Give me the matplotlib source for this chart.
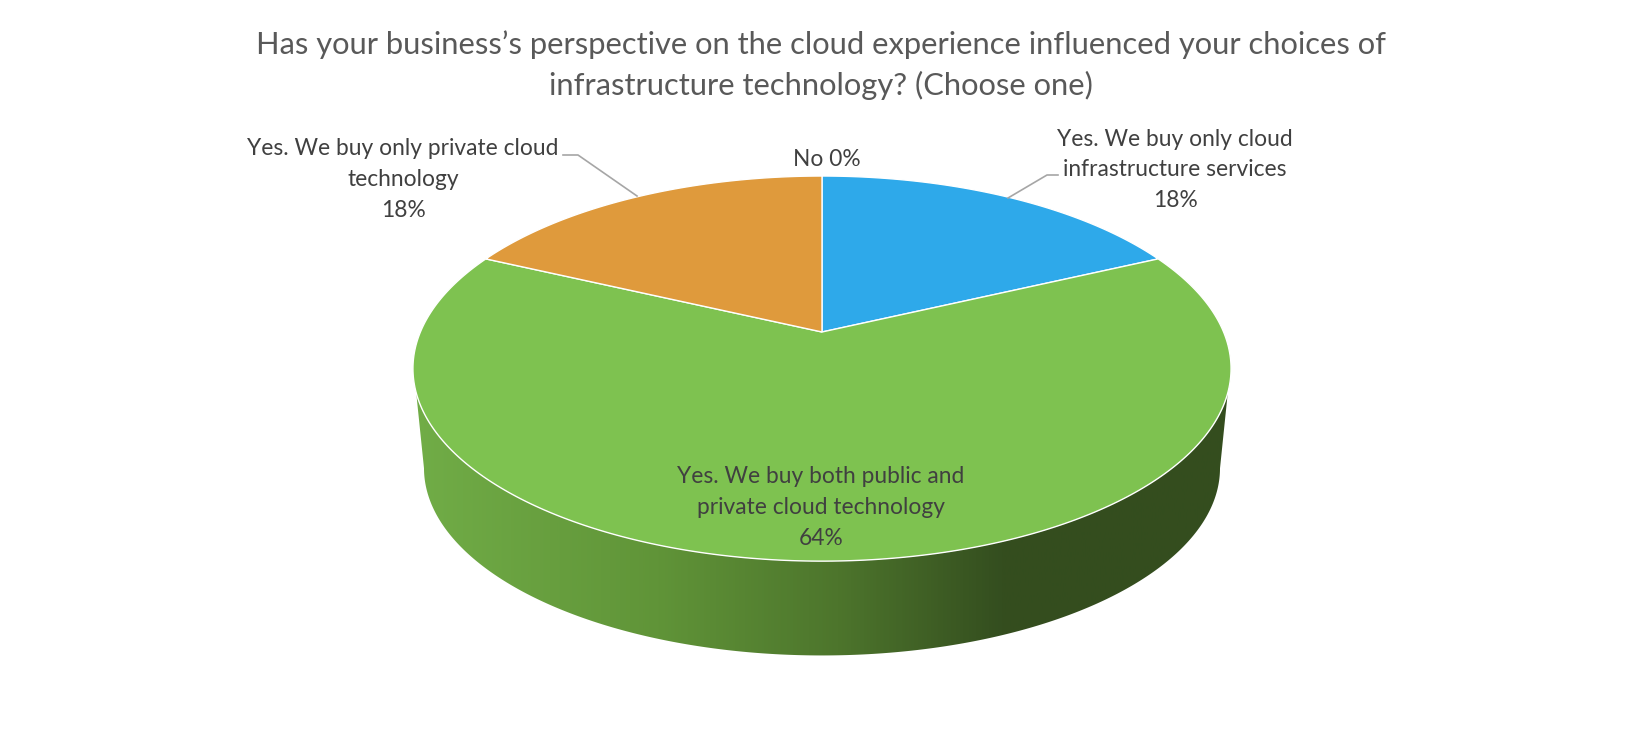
import numpy as np
import matplotlib
matplotlib.use('Agg')
import matplotlib.pyplot as plt
from matplotlib.colors import LinearSegmentedColormap
from matplotlib.patches import Polygon

plt.rcParams['font.family'] = ['Lato', 'DejaVu Sans']

title = "Has your business\u2019s perspective on the cloud experience influenced your choices of\ninfrastructure technology? (Choose one)"
categories = ['Yes. We buy only cloud\ninfrastructure services',
              'Yes. We buy both public and\nprivate cloud technology',
              'Yes. We buy only private cloud\ntechnology',
              'No']
values = [18, 64, 18, 0]
colors = ['#2ea9ea', '#7ec250', '#df9a3c', '#a5a5a5']

# pie geometry, in pixels
CX, APEX_Y = 822, 332
PERSP = 0.19
RX, RY = 401.6, 185.6
WALL_SCALE, WALL_DROP = 0.973, 100.5


def project(angle, scale=1.0, drop=0.0):
    # angle is clockwise from 12 o'clock, circle seen through a perspective
    x = np.sin(angle)
    y = np.cos(angle)
    w = 1 + PERSP * y
    return CX + scale * RX * x / w, APEX_Y + drop - scale * RY * y / w


fig = plt.figure(figsize=(16.43, 7.3), dpi=100)
ax = fig.add_axes([0, 0, 1, 1])
ax.set_xlim(0, 1643)
ax.set_ylim(730, 0)
ax.axis('off')

# side wall of the green slice
shade = LinearSegmentedColormap.from_list(
    'wall', [(0.0, '#71ad47'), (0.30, '#609438'), (0.52, '#4d752c'),
             (0.72, '#344e1f'), (1.0, '#344d1e')])
near = np.linspace(np.radians(108), np.radians(252), 300)
top_x, top_y = project(near)
low = np.linspace(np.radians(101), np.radians(259), 300)
low_x, low_y = project(low, WALL_SCALE, WALL_DROP)
outline = np.vstack([np.column_stack([top_x, top_y]),
                     np.column_stack([low_x, low_y])[::-1]])
wall = Polygon(outline, closed=True, facecolor='none', edgecolor='none')
ax.add_patch(wall)
grad = ax.imshow(np.linspace(0, 1, 512).reshape(1, -1), cmap=shade, aspect='auto',
                 extent=[412, 1232, 730, 0], zorder=1)
grad.set_clip_path(wall)
ax.set_xlim(0, 1643)
ax.set_ylim(730, 0)

# top face
edges = np.radians(np.cumsum([0] + values) * 3.6)
for i in range(len(values)):
    if values[i] == 0:
        continue
    t = np.linspace(edges[i], edges[i + 1], 300)
    x, y = project(t)
    pts = np.column_stack([np.r_[CX, x], np.r_[APEX_Y, y]])
    ax.add_patch(Polygon(pts, closed=True, facecolor=colors[i], edgecolor='white',
                         linewidth=1.0, joinstyle='miter', zorder=2))

# leader lines
ax.plot([563, 578, 637], [155, 155, 196], color='#a6a6a6', lw=1.2, zorder=3)
ax.plot([1058, 1047, 1008], [175, 175, 198], color='#a6a6a6', lw=1.2, zorder=3)

# text
ax.text(821, 65, title, ha='center', va='center', fontsize=22.2, color='#595959',
        linespacing=1.48)
lab = dict(ha='center', va='center', fontsize=16.4, color='#404040', linespacing=1.56, zorder=4)
ax.text(1175, 170, '%s\n%d%%' % (categories[0], values[0]), **lab)
ax.text(821, 507.5, '%s\n%d%%' % (categories[1], values[1]), **lab)
ax.text(403, 179.5, '%s\n%d%%' % (categories[2], values[2]), **lab)
ax.text(827, 160, '%s %d%%' % (categories[3], values[3]), **lab)

fig.savefig('out.png', dpi=100, facecolor='white')
